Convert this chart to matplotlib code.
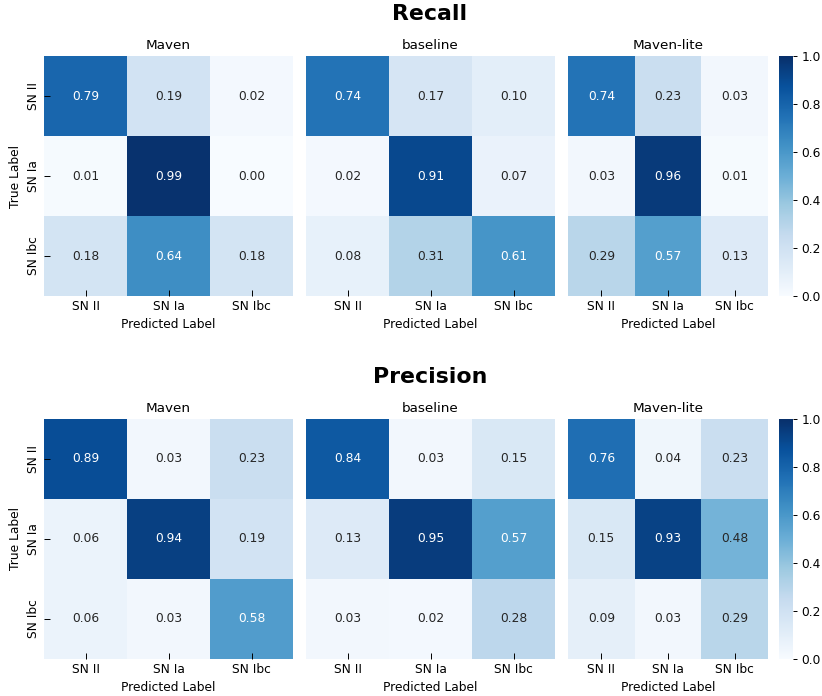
import numpy as np
import matplotlib
matplotlib.use("Agg")
import matplotlib.pyplot as plt
import seaborn as sns

classes = ["SN II", "SN Ia", "SN Ibc"]
models = ["Maven", "baseline", "Maven-lite"]

recall_maven = [[0.79, 0.19, 0.02],
                [0.01, 0.99, 0.00],
                [0.18, 0.64, 0.18]]
recall_baseline = [[0.74, 0.17, 0.10],
                   [0.02, 0.91, 0.07],
                   [0.08, 0.31, 0.61]]
recall_lite = [[0.74, 0.23, 0.03],
               [0.03, 0.96, 0.01],
               [0.29, 0.57, 0.13]]

precision_maven = [[0.89, 0.03, 0.23],
                   [0.06, 0.94, 0.19],
                   [0.06, 0.03, 0.58]]
precision_baseline = [[0.84, 0.03, 0.15],
                      [0.13, 0.95, 0.57],
                      [0.03, 0.02, 0.28]]
precision_lite = [[0.76, 0.04, 0.23],
                  [0.15, 0.93, 0.48],
                  [0.09, 0.03, 0.29]]

DPI = 88
W, H = 822, 696
fig = plt.figure(figsize=(W / DPI, H / DPI), dpi=DPI)


def box(x0, y0, x1, y1):
    # pixel box -> figure fraction rect
    return [x0 / W, 1 - y1 / H, (x1 - x0) / W, (y1 - y0) / H]


rows = [
    ("Recall", [recall_maven, recall_baseline, recall_lite], 56, 296, 20),
    ("Precision", [precision_maven, precision_baseline, precision_lite], 419, 659, 383),
]
col_x = [(44, 293), (306, 555), (568, 768)]

for title, mats, y0, y1, ty in rows:
    fig.text(430 / W, 1 - ty / H, title, ha="center", va="baseline",
             fontsize=18, fontweight="bold")
    cax = fig.add_axes(box(779, y0, 793, y1))
    for j, (name, m) in enumerate(zip(models, mats)):
        ax = fig.add_axes(box(col_x[j][0], y0, col_x[j][1], y1))
        sns.heatmap(np.array(m), ax=ax, cmap="Blues", vmin=0, vmax=1,
                    annot=True, fmt=".2f", annot_kws={"fontsize": 10},
                    cbar=(j == 2), cbar_ax=cax if j == 2 else None,
                    xticklabels=classes,
                    yticklabels=classes if j == 0 else False)
        ax.set_title(name, fontsize=11)
        ax.set_xlabel("Predicted Label", fontsize=10)
        ax.tick_params(axis="both", direction="in", length=5, labelsize=10)
        plt.setp(ax.get_xticklabels(), rotation=0)
        if j == 0:
            ax.set_ylabel("True Label", fontsize=10)
            plt.setp(ax.get_yticklabels(), rotation=90, va="center")
        else:
            ax.set_ylabel("")
            ax.tick_params(axis="y", left=False)
    cax.tick_params(labelsize=10)

fig.savefig("out.png", dpi=DPI)
